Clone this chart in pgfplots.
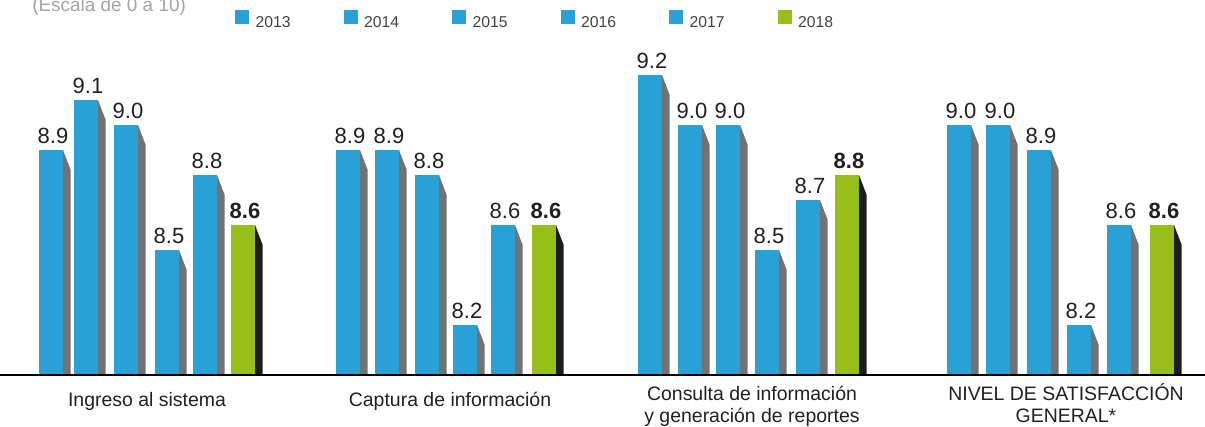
\documentclass[border=0pt]{standalone}
\usepackage{pgfplots}
\usepackage{pgfplotstable}
\pgfplotsset{compat=1.18}
\usepackage{fontspec}
\setmainfont{Liberation Sans}
\definecolor{cblue}{HTML}{29A0D6}
\definecolor{cside}{HTML}{717274}
\definecolor{cgreen}{HTML}{97BE19}
\definecolor{cgside}{HTML}{1D1D1B}
\definecolor{ctext}{HTML}{231F20}
\definecolor{cgray}{HTML}{A3A3A3}

\pgfplotstableread{
a b c
0 0 0
0 1 0
1 1 0
1 0 0
}\facetab
\pgfplotstableread{
a b c
0 0 0
0 1 0
1 1 1
1 0 0
}\sidetab

\newcommand{\valfont}{\fontsize{16.5}{19}\selectfont}
\newcommand{\catfont}{\fontsize{14.6}{17}\selectfont}

% #1 left edge (px), #2 value, #3 face colour, #4 side colour, #5 label font extras
\newcommand{\bbar}[5]{%
  \addplot[fill=#3, draw=none, forget plot] table[x expr={#1+\thisrow{a}*24}, y expr={8+\thisrow{b}*(#2-8)}] {\facetab};
  \addplot[fill=#4, draw=none, forget plot] table[x expr={#1+24+\thisrow{a}*7.5}, y expr={8+\thisrow{b}*(#2-8)-\thisrow{c}*0.078}] {\sidetab};
  \node[anchor=base, inner sep=0pt, text=ctext, font=\valfont#5, yshift=4.5pt] at (axis cs:#1+14,#2) {#2};
}

\begin{document}
\begin{tikzpicture}
\begin{axis}[
  x=0.75pt, y=187.5pt,
  xmin=0, xmax=1205, ymin=7.792, ymax=9.5,
  hide axis, clip=false,
  legend columns=6,
  legend image code/.code={\fill[#1] (0pt,-0.5pt) rectangle (9.75pt,9.25pt);},
  legend style={draw=none, fill=none, inner sep=0pt, outer sep=0pt,
    at={(0.195,0.9532)}, anchor=west,
    font=\fontsize{11.8}{14}\selectfont, text=ctext!85,
    nodes={inner sep=0pt},
    /tikz/every odd column/.append style={column sep=5.25pt},
    /tikz/every even column/.append style={column sep=39.75pt}},
]
\addlegendimage{cblue}\addlegendentry{2013}
\addlegendimage{cblue}\addlegendentry{2014}
\addlegendimage{cblue}\addlegendentry{2015}
\addlegendimage{cblue}\addlegendentry{2016}
\addlegendimage{cblue}\addlegendentry{2017}
\addlegendimage{cgreen}\addlegendentry{2018}

% Ingreso al sistema
\bbar{39}{8.9}{cblue}{cside}{}
\bbar{74}{9.1}{cblue}{cside}{}
\bbar{114}{9.0}{cblue}{cside}{}
\bbar{155}{8.5}{cblue}{cside}{}
\bbar{193}{8.8}{cblue}{cside}{}
\bbar{231}{8.6}{cgreen}{cgside}{\bfseries}
% Captura de informacion
\bbar{336}{8.9}{cblue}{cside}{}
\bbar{375}{8.9}{cblue}{cside}{}
\bbar{415}{8.8}{cblue}{cside}{}
\bbar{453}{8.2}{cblue}{cside}{}
\bbar{491}{8.6}{cblue}{cside}{}
\bbar{532}{8.6}{cgreen}{cgside}{\bfseries}
% Consulta de informacion
\bbar{638}{9.2}{cblue}{cside}{}
\bbar{678}{9.0}{cblue}{cside}{}
\bbar{716}{9.0}{cblue}{cside}{}
\bbar{755}{8.5}{cblue}{cside}{}
\bbar{796}{8.7}{cblue}{cside}{}
\bbar{835}{8.8}{cgreen}{cgside}{\bfseries}
% Nivel de satisfaccion general
\bbar{947}{9.0}{cblue}{cside}{}
\bbar{986}{9.0}{cblue}{cside}{}
\bbar{1027}{8.9}{cblue}{cside}{}
\bbar{1067}{8.2}{cblue}{cside}{}
\bbar{1107}{8.6}{cblue}{cside}{}
\bbar{1150}{8.6}{cgreen}{cgside}{\bfseries}

\addplot[black, line width=1.1pt, forget plot] coordinates {(0,8) (1205,8)};

\node[anchor=base, inner sep=0pt, text=ctext, font=\catfont] at (axis cs:147,7.872) {Ingreso al sistema};
\node[anchor=base, inner sep=0pt, text=ctext, font=\catfont] at (axis cs:450,7.872) {Captura de información};
\node[anchor=base, inner sep=0pt, text=ctext, font=\catfont] at (axis cs:752,7.896) {Consulta de información};
\node[anchor=base, inner sep=0pt, text=ctext, font=\catfont] at (axis cs:752,7.808) {y generación de reportes};
\node[anchor=base, inner sep=0pt, text=ctext, font=\catfont] at (axis cs:1066,7.896) {NIVEL DE SATISFACCIÓN};
\node[anchor=base, inner sep=0pt, text=ctext, font=\catfont] at (axis cs:1066,7.808) {GENERAL*};

\node[anchor=base west, inner sep=0pt, text=cgray, font=\fontsize{14.2}{17}\selectfont] at (axis cs:32,9.452) {(Escala de 0 a 10)};

\coordinate (bl) at (rel axis cs:0,0);
\coordinate (tr) at (rel axis cs:1,1);
\end{axis}
\pgfresetboundingbox
\path[use as bounding box] (bl) rectangle (tr);
\end{tikzpicture}
\end{document}
